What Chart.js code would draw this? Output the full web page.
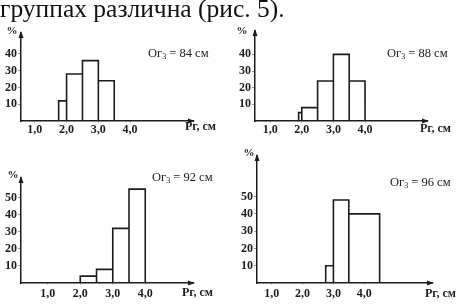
<!DOCTYPE html>
<html>
<head>
<meta charset="utf-8">
<script src="https://cdn.jsdelivr.net/npm/chart.js@4.4.1/dist/chart.umd.min.js"></script>
<style>
html, body { margin: 0; padding: 0; background: #fff; }
#wrap { position: relative; width: 459px; height: 304px; overflow: hidden; }
#wrap canvas { position: absolute; left: 0; top: 0; }
#caption { position: absolute; left: 0px; top: -4px; font: 25.5px 'Liberation Serif', serif; line-height: 25px; color: #111; white-space: nowrap; z-index: 2; }
</style>
</head>
<body>
<div id="wrap">
  <div id="caption">группах различна (рис. 5).</div>
  <canvas id="c84" width="459" height="304"></canvas>
  <canvas id="c88" width="459" height="304"></canvas>
  <canvas id="c92" width="459" height="304"></canvas>
  <canvas id="c96" width="459" height="304"></canvas>
</div>
<script>
// chest girth groups (Ог3, cm)
const girths = ['84', '88', '92', '96'];

// bin edges (Рг, cm) and share of each bin (%)
const edges84 = [1.75, 2.0, 2.5, 3.0, 3.5];
const share84 = [12, 28, 36, 24];
const edges88 = [1.9, 2.0, 2.5, 3.0, 3.5, 4.0];
const share88 = [5, 8, 24, 40, 24];
const edges92 = [2.0, 2.5, 3.0, 3.5, 4.0];
const share92 = [4, 8, 32, 55];
const edges96 = [2.75, 3.0, 3.5, 4.5];
const share96 = [10, 48, 40];

const xTicks = [1, 2, 3, 4];
const yTicksTop = [10, 20, 30, 40];
const yTicksBottom = [10, 20, 30, 40, 50];

// where each panel sits on the page
const panels = [
  { id: 'c84', girth: girths[0], edges: edges84, share: share84, yTicks: yTicksTop,
    left: 21, right: 193, top: 33, bottom: 121, xmin: 0.565, xmax: 5.98, ymax: 52.5,
    xPad: 0, pct: [12, 31], unit: [185, 127], note: [148, 54] },
  { id: 'c88', girth: girths[1], edges: edges88, share: share88, yTicks: yTicksTop,
    left: 255, right: 427, top: 31, bottom: 121, xmin: 0.52, xmax: 5.96, ymax: 54,
    xPad: 0, pct: [242, 31], unit: [420, 129], note: [387, 54] },
  { id: 'c92', girth: girths[2], edges: edges92, share: share92, yTicks: yTicksBottom,
    left: 21, right: 193, top: 178, bottom: 283, xmin: 0.175, xmax: 5.47, ymax: 61.5,
    xPad: 2, pct: [13, 175], unit: [182, 293], note: [152, 178] },
  { id: 'c96', girth: girths[3], edges: edges96, share: share96, yTicks: yTicksBottom,
    left: 257, right: 432, top: 156, bottom: 283, xmin: 0.52, xmax: 6.2, ymax: 73.5,
    xPad: 2, pct: [249, 153], unit: [425, 294], note: [390, 183] }
];

const Y_W = 18;
const X_H = 18;
const ink = '#1c1c1c';

// histogram outline as a polyline through the bin edges
function outline(edges, share) {
  const pts = [];
  for (let i = 0; i < share.length; i++) {
    pts.push({ x: edges[i], y: 0 });
    pts.push({ x: edges[i], y: share[i] });
    pts.push({ x: edges[i + 1], y: share[i] });
    pts.push({ x: edges[i + 1], y: 0 });
  }
  return pts;
}

const decorations = {
  id: 'decorations',
  afterDraw(chart, args, p) {
    const ctx = chart.ctx;
    const a = chart.chartArea;
    ctx.save();
    ctx.fillStyle = ink;
    // arrow heads
    ctx.beginPath();
    ctx.moveTo(a.left, a.top - 2);
    ctx.lineTo(a.left - 2.5, a.top + 5);
    ctx.lineTo(a.left + 2.5, a.top + 5);
    ctx.closePath();
    ctx.fill();
    ctx.beginPath();
    ctx.moveTo(a.right + 2, a.bottom);
    ctx.lineTo(a.right - 5, a.bottom - 2.5);
    ctx.lineTo(a.right - 5, a.bottom + 2.5);
    ctx.closePath();
    ctx.fill();

    ctx.textBaseline = 'middle';
    ctx.font = 'bold 11px "Liberation Serif", serif';
    ctx.textAlign = 'center';
    ctx.fillText('%', p.pct[0], p.pct[1]);
    ctx.textAlign = 'left';
    ctx.font = 'bold 12px "Liberation Serif", serif';
    ctx.fillText('Рг, см', p.unit[0], p.unit[1]);

    // Ог3 = .. см
    let x = p.note[0];
    const y = p.note[1];
    ctx.font = '12.5px "Liberation Serif", serif';
    ctx.fillText('Ог', x, y);
    x += ctx.measureText('Ог').width;
    ctx.font = '8px "Liberation Serif", serif';
    ctx.fillText('3', x, y + 3);
    x += ctx.measureText('3').width;
    ctx.font = '12.5px "Liberation Serif", serif';
    ctx.fillText(' = ' + p.girth + ' см', x, y);
    ctx.restore();
  }
};

panels.forEach(function (p) {
  const canvas = document.getElementById(p.id);
  new Chart(canvas.getContext('2d'), {
    type: 'line',
    data: {
      datasets: [{
        data: outline(p.edges, p.share),
        borderColor: ink,
        borderWidth: 1.6,
        pointRadius: 0,
        fill: false,
        tension: 0,
        clip: false
      }]
    },
    options: {
      responsive: false,
      devicePixelRatio: 1,
      animation: false,
      events: [],
      layout: {
        padding: {
          left: p.left - Y_W,
          right: 459 - p.right,
          top: p.top,
          bottom: 304 - p.bottom - X_H
        }
      },
      plugins: {
        legend: { display: false },
        tooltip: { enabled: false },
        decorations: p
      },
      scales: {
        x: {
          type: 'linear',
          min: p.xmin,
          max: p.xmax,
          afterBuildTicks: function (axis) { axis.ticks = xTicks.map(v => ({ value: v })); },
          afterFit: function (axis) { axis.height = X_H; },
          border: { display: true, color: ink, width: 1.5 },
          grid: { drawOnChartArea: false, drawTicks: true, tickLength: 2, color: '#bbb' },
          ticks: {
            autoSkip: false,
            maxRotation: 0,
            padding: p.xPad,
            color: ink,
            font: { family: 'Liberation Serif', size: 12, weight: 'bold' },
            callback: v => v.toFixed(1).replace('.', ',')
          }
        },
        y: {
          type: 'linear',
          min: 0,
          max: p.ymax,
          afterBuildTicks: function (axis) { axis.ticks = p.yTicks.map(v => ({ value: v })); },
          afterFit: function (axis) { axis.width = Y_W; },
          border: { display: true, color: ink, width: 1.5 },
          grid: { drawOnChartArea: false, drawTicks: true, tickLength: 3, color: '#999' },
          ticks: {
            autoSkip: false,
            padding: 1,
            color: ink,
            font: { family: 'Liberation Serif', size: 12, weight: 'bold' }
          }
        }
      }
    },
    plugins: [decorations]
  });
});
</script>
</body>
</html>
